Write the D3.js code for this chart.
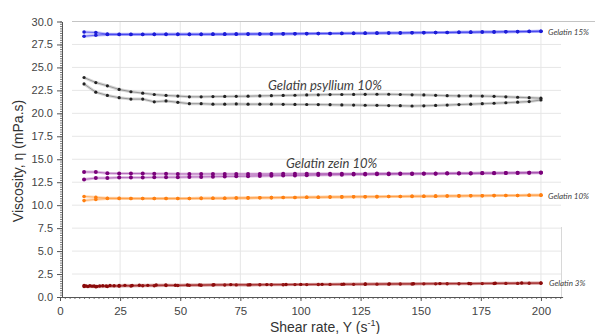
<!DOCTYPE html>
<html>
<head>
<meta charset="utf-8">
<script src="https://cdn.jsdelivr.net/npm/d3@7"></script>
<style>
  body { margin: 0; background: #fff; }
  svg { display: block; }
</style>
</head>
<body>
<svg id="chart" width="595" height="334"></svg>
<script>
// shear rate sampling (s-1), shared by most runs
const shearRate = [10.0, 14.9, 19.7, 24.6, 29.5, 34.4, 39.2, 44.1, 49.0, 53.8,
  58.7, 63.6, 68.5, 73.3, 78.2, 83.1, 87.9, 92.8, 97.7, 102.6,
  107.4, 112.3, 117.2, 122.1, 126.9, 131.8, 136.7, 141.5, 146.4, 151.3,
  156.2, 161.0, 165.9, 170.8, 175.6, 180.5, 185.4, 190.3, 195.1, 200.0];

// second gelatin 3% run was sampled more densely at low rates
const shearRate3b = [10, 10.8, 11.6, 12.4, 13.3, 14.2, 15.3, 16.5, 17.8, 19.2,
  20.8, 22.5, 24.6, 27, 30, 33, 36.5, 40, 44, 48,
  53, 58, 64, 71, 79, 86, 94, 100.1, 109, 118,
  127, 137, 147, 158, 170, 181, 192, 200];

const gel15a = [28.85, 28.8, 28.62, 28.6, 28.6, 28.6, 28.6, 28.6, 28.6, 28.6,
  28.6, 28.62, 28.62, 28.63, 28.63, 28.64, 28.65, 28.66, 28.67, 28.68,
  28.69, 28.7, 28.71, 28.72, 28.73, 28.74, 28.75, 28.76, 28.78, 28.79,
  28.8, 28.81, 28.83, 28.84, 28.86, 28.87, 28.89, 28.9, 28.92, 28.94];
const gel15b = [28.4, 28.5, 28.58, 28.58, 28.59, 28.59, 28.6, 28.6, 28.6, 28.6,
  28.6, 28.61, 28.62, 28.62, 28.63, 28.64, 28.64, 28.65, 28.66, 28.67,
  28.68, 28.69, 28.7, 28.71, 28.72, 28.73, 28.74, 28.75, 28.77, 28.78,
  28.79, 28.8, 28.82, 28.83, 28.85, 28.86, 28.88, 28.89, 28.91, 28.93];

const psylliumA = [23.9, 23.35, 23.0, 22.6, 22.35, 22.2, 22.05, 21.95, 21.88, 21.8,
  21.8, 21.82, 21.84, 21.85, 21.87, 21.9, 21.92, 21.95, 21.97, 22.0,
  22.02, 22.04, 22.05, 22.06, 22.07, 22.08, 22.08, 22.05, 22.02, 22.0,
  21.96, 21.92, 21.9, 21.9, 21.88, 21.85, 21.8, 21.75, 21.7, 21.65];
const psylliumB = [23.2, 22.3, 21.95, 21.7, 21.55, 21.55, 21.25, 21.35, 21.2, 21.05,
  21.05, 21.0, 21.0, 21.02, 21.0, 21.0, 21.0, 20.98, 20.97, 20.96,
  20.95, 20.94, 20.92, 20.9, 20.88, 20.87, 20.85, 20.83, 20.8, 20.82,
  20.86, 20.9, 20.95, 21.0, 21.05, 21.1, 21.15, 21.22, 21.28, 21.45];

const zeinA = [13.62, 13.6, 13.48, 13.45, 13.45, 13.44, 13.42, 13.42, 13.4, 13.4,
  13.4, 13.4, 13.4, 13.4, 13.4, 13.4, 13.4, 13.41, 13.41, 13.42,
  13.42, 13.42, 13.43, 13.43, 13.43, 13.44, 13.44, 13.45, 13.45, 13.46,
  13.46, 13.47, 13.48, 13.48, 13.49, 13.5, 13.51, 13.52, 13.53, 13.55];
const zeinB = [12.8, 12.95, 12.95, 13.0, 13.0, 13.0, 13.03, 13.04, 13.05, 13.07,
  13.08, 13.1, 13.12, 13.14, 13.16, 13.18, 13.2, 13.22, 13.24, 13.26,
  13.28, 13.3, 13.32, 13.34, 13.35, 13.36, 13.38, 13.39, 13.4, 13.41,
  13.42, 13.44, 13.45, 13.46, 13.47, 13.48, 13.5, 13.51, 13.52, 13.53];

const gel10a = [10.95, 10.87, 10.76, 10.74, 10.73, 10.72, 10.72, 10.72, 10.72, 10.73,
  10.74, 10.75, 10.76, 10.78, 10.79, 10.8, 10.82, 10.83, 10.84, 10.86,
  10.87, 10.88, 10.9, 10.91, 10.92, 10.93, 10.94, 10.95, 10.96, 10.97,
  10.98, 11.0, 11.01, 11.02, 11.03, 11.04, 11.05, 11.06, 11.08, 11.09];
const gel10b = [10.5, 10.63, 10.72, 10.72, 10.72, 10.72, 10.72, 10.72, 10.72, 10.73,
  10.74, 10.75, 10.76, 10.78, 10.79, 10.8, 10.82, 10.83, 10.84, 10.86,
  10.87, 10.88, 10.9, 10.91, 10.92, 10.93, 10.94, 10.95, 10.96, 10.97,
  10.98, 11.0, 11.01, 11.02, 11.03, 11.04, 11.05, 11.06, 11.08, 11.09];

const gel3a = [1.15, 1.12, 1.15, 1.18, 1.2, 1.22, 1.22, 1.25, 1.25, 1.27,
  1.28, 1.3, 1.3, 1.32, 1.32, 1.33, 1.33, 1.34, 1.35, 1.35,
  1.36, 1.37, 1.38, 1.38, 1.39, 1.4, 1.4, 1.41, 1.42, 1.43,
  1.43, 1.44, 1.45, 1.45, 1.46, 1.47, 1.48, 1.48, 1.49, 1.5];
const gel3b = [1.25, 1.2, 1.15, 1.22, 1.18, 1.2, 1.15, 1.2, 1.22, 1.2,
  1.25, 1.22, 1.25, 1.27, 1.25, 1.28, 1.27, 1.3, 1.3, 1.28,
  1.3, 1.32, 1.33, 1.35, 1.33, 1.35, 1.36, 1.37, 1.38, 1.4,
  1.41, 1.43, 1.44, 1.46, 1.47, 1.5, 1.52, 1.53];

const yTicks = [0, 2.5, 5, 7.5, 10, 12.5, 15, 17.5, 20, 22.5, 25, 27.5, 30];
const xTicks = [0, 25, 50, 75, 100, 125, 150, 175, 200];

const series = [
  { x: shearRate, y: gel15a, dot: "#1c1cd6", line: "#3a3af0", r: 1.8 },
  { x: shearRate, y: gel15b, dot: "#1c1cd6", line: "#3a3af0", r: 1.8 },
  { x: shearRate, y: psylliumA, dot: "#222", line: "#777", r: 1.6 },
  { x: shearRate, y: psylliumB, dot: "#222", line: "#777", r: 1.6 },
  { x: shearRate, y: zeinA, dot: "#7a007a", line: "#a040a8", r: 2.0 },
  { x: shearRate, y: zeinB, dot: "#7a007a", line: "#a040a8", r: 2.0 },
  { x: shearRate, y: gel10a, dot: "#ff7f10", line: "#ff9a40", r: 1.8 },
  { x: shearRate, y: gel10b, dot: "#ff7f10", line: "#ff9a40", r: 1.8 },
  { x: shearRate, y: gel3a, dot: "#8b0a0a", line: "#a02020", r: 1.7 },
  { x: shearRate3b, y: gel3b, dot: "#8b0a0a", line: "#a02020", r: 1.7 }
];

const svg = d3.select("#chart");
const font = "'Liberation Sans', Arial, sans-serif";

const xScale = d3.scaleLinear().domain([0, 209]).range([60, 562.6]);
const yScale = d3.scaleLinear().domain([0, 30]).range([297, 21.5]);

// gridlines
svg.append("g")
  .selectAll("line")
  .data(yTicks.filter(d => d > 0 && d < 30))
  .join("line")
  .attr("x1", 72).attr("x2", 561)
  .attr("y1", d => yScale(d)).attr("y2", d => yScale(d))
  .attr("stroke", "#e6e6e6").attr("stroke-width", 1);

svg.append("g")
  .selectAll("line")
  .data(xTicks.filter(d => d > 0))
  .join("line")
  .attr("x1", d => xScale(d)).attr("x2", d => xScale(d))
  .attr("y1", yScale(30)).attr("y2", yScale(0))
  .attr("stroke", "#e6e6e6").attr("stroke-width", 1);

// top frame line
svg.append("line")
  .attr("x1", 72).attr("x2", 595)
  .attr("y1", yScale(30)).attr("y2", yScale(30))
  .attr("stroke", "#c4c4c4");

// faint right edge near the bottom
svg.append("line")
  .attr("x1", 561.5).attr("x2", 561.5)
  .attr("y1", 227).attr("y2", yScale(0))
  .attr("stroke", "#d8d8d8");

// minor ticks
svg.append("g")
  .attr("transform", `translate(${xScale(0) + 2},0)`)
  .call(d3.axisLeft(yScale).tickValues(d3.range(0, 30.01, 0.25)).tickSize(2).tickFormat(""))
  .call(g => g.select(".domain").remove())
  .selectAll("line").attr("stroke", "#777");

svg.append("g")
  .attr("transform", `translate(0,${yScale(0)})`)
  .call(d3.axisBottom(xScale).tickValues(d3.range(0, 209, 2)).tickSize(2).tickFormat(""))
  .call(g => g.select(".domain").remove())
  .selectAll("line").attr("stroke", "#777");

// y axis
const yAxis = svg.append("g")
  .attr("transform", `translate(${xScale(0) + 2},0)`)
  .call(d3.axisLeft(yScale).tickValues(yTicks).tickSize(5).tickSizeOuter(0).tickPadding(4)
    .tickFormat(d3.format(".1f")));
yAxis.select(".domain").attr("stroke", "#555");
yAxis.selectAll(".tick line").attr("stroke", "#555");
yAxis.selectAll("text").attr("fill", "#444").attr("font-size", 11).attr("font-family", font);

// x axis
const xAxis = svg.append("g")
  .attr("transform", `translate(0,${yScale(0)})`)
  .call(d3.axisBottom(xScale).tickValues(xTicks).tickSize(4).tickSizeOuter(0).tickPadding(6)
    .tickFormat(d3.format("d")));
xAxis.select(".domain").attr("stroke", "#555");
xAxis.selectAll(".tick line").attr("stroke", "#555");
xAxis.selectAll("text").attr("fill", "#444").attr("font-size", 11.5).attr("font-family", font);

// series lines and markers
const line = d3.line()
  .x(d => xScale(d[0]))
  .y(d => yScale(d[1]));

series.forEach(s => {
  const pts = s.x.map((x, i) => [x, s.y[i]]);
  svg.append("path")
    .attr("d", line(pts))
    .attr("fill", "none")
    .attr("stroke", s.line)
    .attr("stroke-opacity", 0.3)
    .attr("stroke-width", 3);
  svg.append("path")
    .attr("d", line(pts))
    .attr("fill", "none")
    .attr("stroke", s.line)
    .attr("stroke-opacity", 0.75)
    .attr("stroke-width", 0.9);
  svg.append("g")
    .selectAll("circle")
    .data(pts)
    .join("circle")
    .attr("cx", d => xScale(d[0]))
    .attr("cy", d => yScale(d[1]))
    .attr("r", s.r)
    .attr("fill", s.dot);
});

// series labels
const labelFont = "Lato, 'Open Sans', sans-serif";
const labels = [
  { text: "Gelatin 15%", x: 548, y: 31.7, size: 8 },
  { text: "Gelatin psyllium 10%", x: 268, y: 85, size: 13 },
  { text: "Gelatin zein 10%", x: 286, y: 163, size: 13 },
  { text: "Gelatin 10%", x: 548, y: 195.7, size: 8 },
  { text: "Gelatin 3%", x: 549, y: 283.3, size: 8 }
];
svg.append("g")
  .selectAll("text")
  .data(labels)
  .join("text")
  .attr("x", d => d.x)
  .attr("y", d => d.y)
  .attr("dy", "0.35em")
  .attr("font-family", labelFont)
  .attr("font-style", "italic")
  .attr("font-size", d => d.size)
  .attr("fill", "#404040")
  .text(d => d.text);

// axis titles
svg.append("text")
  .attr("transform", "translate(23,161) rotate(-90)")
  .attr("text-anchor", "middle")
  .attr("font-family", font)
  .attr("font-size", 14)
  .attr("fill", "#333")
  .text("Viscosity, η (mPa.s)");

const xTitle = svg.append("text")
  .attr("x", 325)
  .attr("y", 332)
  .attr("text-anchor", "middle")
  .attr("font-family", font)
  .attr("font-size", 14)
  .attr("fill", "#333");
xTitle.append("tspan").text("Shear rate, Y (s");
xTitle.append("tspan").attr("font-size", 9).attr("dy", -6).text("-1");
xTitle.append("tspan").attr("dy", 6).text(")");
</script>
</body>
</html>
